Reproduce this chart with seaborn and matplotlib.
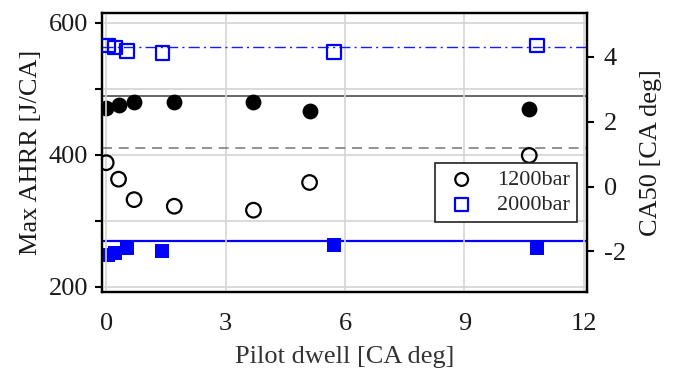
import matplotlib
matplotlib.use("Agg")
import matplotlib.pyplot as plt
import seaborn as sns
import pandas as pd

# Data
dwell_1200 = [0.0, 0.31, 0.70, 1.71, 3.70, 5.11, 10.63]
ahrr_1200 = [388, 363, 332, 322, 316, 358, 399]
ca50_1200 = [2.42, 2.50, 2.62, 2.62, 2.62, 2.32, 2.40]

dwell_2000 = [0.05, 0.22, 0.52, 1.41, 5.72, 10.83]
ahrr_2000 = [566, 563, 557, 554, 556, 566]
ca50_2000 = [-2.11, -2.06, -1.90, -1.98, -1.80, -1.88]

ref_ahrr_1200 = 410
ref_ahrr_2000 = 563
ref_ca50_1200 = 2.80
ref_ca50_2000 = -1.67

labels = ["1200bar", "2000bar"]
xticks = [0, 3, 6, 9, 12]

sns.set_style("white")
plt.rcParams["font.family"] = ["Liberation Serif", "DejaVu Serif"]

fig = plt.figure(figsize=(6.77, 3.71), dpi=100)
ax = fig.add_axes([0.151, 0.213, 0.716, 0.752])
ax2 = ax.twinx()

df1 = pd.DataFrame({"x": dwell_1200, "a": ahrr_1200, "c": ca50_1200})
df2 = pd.DataFrame({"x": dwell_2000, "a": ahrr_2000, "c": ca50_2000})

txt = "#1a1a1a"
grid_c = "#d4d4d4"

# grid
ax.set_axisbelow(True)
ax.grid(True, color=grid_c, linewidth=1.2)

# reference lines
ax.axhline(ref_ahrr_1200, color="#808080", linestyle=(0, (6, 4)), linewidth=1.2, zorder=2)
ax.axhline(ref_ahrr_2000, color="#1a1aff", linestyle=(0, (8, 3, 1.5, 3)), linewidth=1.0, zorder=2)
ax2.axhline(ref_ca50_1200, color="#666666", linestyle="-", linewidth=1.4, zorder=2)
ax2.axhline(ref_ca50_2000, color="#0000ff", linestyle="-", linewidth=1.6, zorder=2)

# open markers: Max AHRR (left)
sns.scatterplot(data=df1, x="x", y="a", ax=ax, marker="o", s=110,
                facecolor="none", edgecolor="black", linewidth=1.6,
                label=labels[0], zorder=3)
sns.scatterplot(data=df2, x="x", y="a", ax=ax, marker="s", s=95,
                facecolor="none", edgecolor="#0000ff", linewidth=1.6,
                label=labels[1], zorder=3)
# filled markers: CA50 (right)
sns.scatterplot(data=df1, x="x", y="c", ax=ax2, marker="o", s=130,
                color="black", edgecolor="black", linewidth=0, zorder=3, legend=False)
sns.scatterplot(data=df2, x="x", y="c", ax=ax2, marker="s", s=110,
                color="#0000ff", edgecolor="#0000ff", linewidth=0, zorder=3, legend=False)

ax.set_xlim(-0.1, 12.08)
ax.set_ylim(192, 615)
ax2.set_ylim(-3.25, 5.35)

ax.set_xticks(xticks)
ax.set_xticklabels([str(t) for t in xticks])
ax.set_yticks([200, 300, 400, 500, 600])
ax.set_yticklabels(["200", "", "400", "", "600"])
ax2.set_yticks([-2, 0, 2, 4])
ax2.set_yticklabels(["-2", "0", "2", "4"])

for a in (ax, ax2):
    for s in a.spines.values():
        s.set_linewidth(1.6)
        s.set_color("black")
    a.tick_params(direction="out", length=5, width=1.5, colors="black",
                  labelsize=19, labelcolor=txt, pad=5)
ax.tick_params(axis="x", pad=10)
ax2.tick_params(axis="y", pad=7)

ax.set_xlabel("Pilot dwell [CA deg]", fontsize=19, color="#333333", labelpad=8)
ax.set_ylabel("Max AHRR [J/CA]", fontsize=19, color=txt, labelpad=5)
ax2.set_ylabel("CA50 [CA deg]", fontsize=19, color=txt, labelpad=10)
ax2.grid(False)

leg = ax.legend(loc="upper right", bbox_to_anchor=(0.979, 0.462), fontsize=16,
                frameon=True, fancybox=False, framealpha=1, edgecolor="#222222",
                handletextpad=0.7, borderpad=0.3, labelspacing=0.2,
                handlelength=1.8, borderaxespad=0)
leg.get_frame().set_linewidth(1.2)
for h in leg.legend_handles:
    h.set_sizes([85])
ax.set_zorder(ax2.get_zorder() + 1)
ax.patch.set_visible(False)

fig.savefig("out.png", dpi=100)
